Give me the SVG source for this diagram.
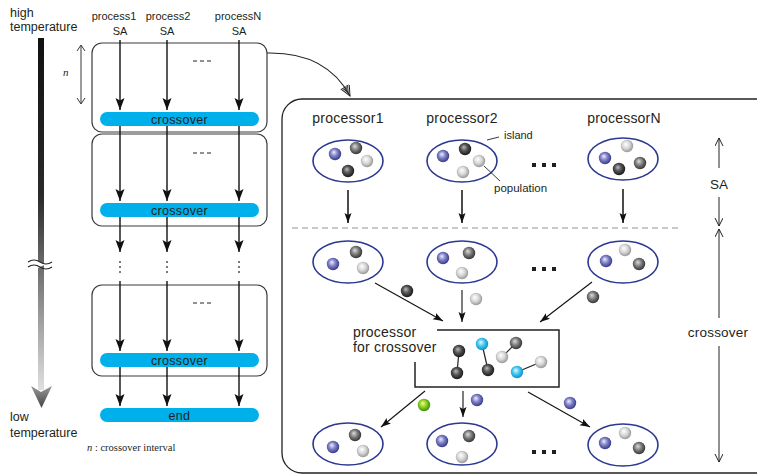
<svg xmlns="http://www.w3.org/2000/svg" width="757" height="474" viewBox="0 0 757 474">
<defs>
<style>
text{font-family:"Liberation Sans",Arial,sans-serif;fill:#231f20}
.lbl{font-size:12.5px}
.plbl{font-size:11px;text-anchor:middle}
.bar{fill:#00b0ea}
.bartxt{font-size:12.5px;text-anchor:middle;letter-spacing:0.3px}
.box{fill:none;stroke:#3a3a3a;stroke-width:1.2}
.vL{stroke:#111;stroke-width:1.4;fill:none;marker-end:url(#aL)}
.vS{stroke:#111;stroke-width:1.1;fill:none;marker-end:url(#aS)}
.vT{stroke:#111;stroke-width:1.5;fill:none;marker-end:url(#aS)}
.isl{fill:none;stroke:#2b3990;stroke-width:1.6}
.ptxt{font-size:14px;text-anchor:middle;letter-spacing:0.2px}
.dim{stroke:#222;stroke-width:1;fill:none;marker-end:url(#aO)}
.lead{stroke:#222;stroke-width:0.9;fill:none}
.dots{fill:#231f20}
circle{stroke:none}
.bB{fill:url(#gBlue)}.bD{fill:url(#gDark)}.bM{fill:url(#gMid)}.bL{fill:url(#gLight)}.bC{fill:url(#gCyan)}.bG{fill:url(#gGreen)}
</style>
<marker id="aL" markerUnits="userSpaceOnUse" markerWidth="13" markerHeight="10" refX="12" refY="4.5" orient="auto"><path d="M0,0 L12,4.5 L0,9 L2.5,4.5 Z" fill="#111"/></marker>
<marker id="aS" markerUnits="userSpaceOnUse" markerWidth="11" markerHeight="8" refX="10" refY="3.5" orient="auto"><path d="M0,0 L10,3.5 L0,7 L2,3.5 Z" fill="#111"/></marker>
<marker id="aO" markerUnits="userSpaceOnUse" markerWidth="10" markerHeight="10" refX="8" refY="4" orient="auto"><path d="M0,0 L8,4 L0,8" fill="none" stroke="#222" stroke-width="1"/></marker>
<marker id="aD" markerUnits="userSpaceOnUse" markerWidth="14" markerHeight="12" refX="11" refY="5" orient="auto"><path d="M0,0 L11,5 L0,10 M-3,0.5 L7,5 L-3,9.5 M-6,1 L3,5 L-6,9" fill="none" stroke="#222" stroke-width="1"/></marker>
<linearGradient id="gTemp" x1="0" y1="0" x2="0" y2="1"><stop offset="0" stop-color="#111"/><stop offset="0.45" stop-color="#2a2a2a"/><stop offset="1" stop-color="#e0e0e0"/></linearGradient>
<linearGradient id="gHead" x1="0" y1="0" x2="0" y2="1"><stop offset="0" stop-color="#999"/><stop offset="1" stop-color="#444"/></linearGradient>
<radialGradient id="gBlue" cx="0.45" cy="0.45" r="0.6" fx="0.4" fy="0.35"><stop offset="0" stop-color="#eef"/><stop offset="0.45" stop-color="#8385c8"/><stop offset="1" stop-color="#2b2f80"/></radialGradient>
<radialGradient id="gDark" cx="0.45" cy="0.45" r="0.6" fx="0.4" fy="0.35"><stop offset="0" stop-color="#bbb"/><stop offset="0.45" stop-color="#555"/><stop offset="1" stop-color="#111"/></radialGradient>
<radialGradient id="gMid" cx="0.45" cy="0.45" r="0.6" fx="0.4" fy="0.35"><stop offset="0" stop-color="#ddd"/><stop offset="0.5" stop-color="#7a7a7a"/><stop offset="1" stop-color="#2a2a2a"/></radialGradient>
<radialGradient id="gLight" cx="0.45" cy="0.45" r="0.6" fx="0.4" fy="0.35"><stop offset="0" stop-color="#fff"/><stop offset="0.5" stop-color="#d8d8d8"/><stop offset="1" stop-color="#8e8e8e"/></radialGradient>
<radialGradient id="gCyan" cx="0.45" cy="0.45" r="0.6" fx="0.4" fy="0.35"><stop offset="0" stop-color="#e6faff"/><stop offset="0.5" stop-color="#3cc4f0"/><stop offset="1" stop-color="#0a88c0"/></radialGradient>
<radialGradient id="gGreen" cx="0.45" cy="0.45" r="0.6" fx="0.4" fy="0.35"><stop offset="0" stop-color="#f2ff8a"/><stop offset="0.5" stop-color="#8ccc1c"/><stop offset="1" stop-color="#2a8410"/></radialGradient>
</defs>

<g id="temperature">
<text class="lbl" x="10" y="17">high</text>
<text class="lbl" x="10" y="31">temperature</text>
<rect x="38" y="38" width="6" height="352" fill="url(#gTemp)"/>
<path d="M31,386 L41,392 L52,386 L41.5,408 Z" fill="url(#gHead)"/>
<path d="M28,262 q6,-4 12,0 t12,0 L52,267 q-6,-4 -12,0 t-12,0 Z" fill="#fff"/>
<path d="M28,262 q6,-4 12,0 t12,0 M28,267 q6,-4 12,0 t12,0" fill="none" stroke="#222" stroke-width="1.1"/>
<text class="lbl" x="10" y="421">low</text>
<text class="lbl" x="10" y="437">temperature</text>
</g>

<g id="interval">
<line x1="81" y1="46" x2="81" y2="103" stroke="#222" stroke-width="0.9"/>
<path d="M77,51 L81,45 L85,51 M77,98 L81,104 L85,98" fill="none" stroke="#222" stroke-width="0.9"/>
<text x="63" y="76" style="font-family:'Liberation Serif',serif;font-style:italic;font-size:11px">n</text>
<text x="87" y="451" style="font-family:'Liberation Serif',serif;font-size:10.5px"><tspan font-style="italic">n</tspan> : crossover interval</text>
</g>

<g id="process-labels">
<text class="plbl" x="114" y="20">process1</text>
<text class="plbl" x="120" y="35">SA</text>
<text class="plbl" x="168" y="20">process2</text>
<text class="plbl" x="167" y="35">SA</text>
<text class="plbl" x="238" y="20">processN</text>
<text class="plbl" x="239" y="35">SA</text>
</g>

<g id="stage1">
<rect class="box" x="92" y="43" width="175" height="89" rx="10"/>
<path d="M193,61 h4 M200,61 h4 M207,61 h4" stroke="#222" stroke-width="1"/>
<rect class="bar" x="100" y="112" width="159" height="14" rx="7"/>
<text class="bartxt" x="179.5" y="123.5">crossover</text>
</g>
<g id="stage2">
<rect class="box" x="92" y="134" width="175" height="92" rx="10"/>
<path d="M193,153 h4 M200,153 h4 M207,153 h4" stroke="#222" stroke-width="1"/>
<rect class="bar" x="100" y="203" width="159" height="14" rx="7"/>
<text class="bartxt" x="179.5" y="214.5">crossover</text>
</g>
<g id="stage3">
<rect class="box" x="92" y="285" width="175" height="91" rx="10"/>
<path d="M193,303 h4 M200,303 h4 M207,303 h4" stroke="#222" stroke-width="1"/>
<rect class="bar" x="100" y="353" width="159" height="14" rx="7"/>
<text class="bartxt" x="179.5" y="364.5">crossover</text>
</g>
<g id="end">
<rect class="bar" x="100" y="408" width="159" height="14" rx="7"/>
<text class="bartxt" x="179.5" y="419.5">end</text>
</g>

<g id="panel">
<rect x="282" y="99" width="500" height="374" rx="20" fill="none" stroke="#222" stroke-width="1.3"/>
<line x1="292" y1="228" x2="681" y2="228" stroke="#8c939c" stroke-width="1" stroke-dasharray="6,4"/>
</g>

<g id="processor1">
<text class="ptxt" x="348" y="123">processor1</text>
<ellipse class="isl" cx="348" cy="161" rx="35" ry="21"/>
<circle class="bB" cx="335" cy="154" r="6.2"/><circle class="bM" cx="356" cy="148" r="6.2"/>
<circle class="bL" cx="367" cy="161" r="6.2"/><circle class="bD" cx="348" cy="171" r="6.2"/>
</g>
<g id="processor2">
<text class="ptxt" x="462" y="123">processor2</text>
<ellipse class="isl" cx="462" cy="161" rx="35" ry="21"/>
<circle class="bB" cx="443" cy="156" r="6.2"/><circle class="bD" cx="465" cy="149" r="6.2"/>
<circle class="bL" cx="479" cy="161" r="6.2"/><circle class="bL" cx="463" cy="172" r="6.2"/>
</g>
<g id="processorN">
<text class="ptxt" x="624" y="123">processorN</text>
<ellipse class="isl" cx="623" cy="159" rx="35" ry="21"/>
<circle class="bL" cx="627" cy="146" r="6.2"/><circle class="bB" cx="605" cy="158" r="6.2"/>
<circle class="bD" cx="619" cy="169" r="6.2"/><circle class="bM" cx="640" cy="163" r="6.2"/>
</g>
<g id="annotations">
<path class="lead" d="M487,140 L499,137"/>
<text x="504" y="139" style="font-size:11px">island</text>
<path class="lead" d="M484,166 L500,181"/>
<text x="494" y="192" style="font-size:11.5px">population</text>
<path class="dots" d="M532,163h4v4h-4z M542,163h4v4h-4z M552,163h4v4h-4z"/>
<path class="dots" d="M532,267h4v4h-4z M542,267h4v4h-4z M552,267h4v4h-4z"/>
<path class="dots" d="M532,450h4v4h-4z M542,450h4v4h-4z M552,450h4v4h-4z"/>
</g>

<g id="mid1">
<ellipse class="isl" cx="348" cy="262" rx="35" ry="21"/>
<circle class="bB" cx="333" cy="264" r="6.2"/><circle class="bM" cx="356" cy="252" r="6.2"/><circle class="bL" cx="363" cy="268" r="6.2"/>
</g>
<g id="mid2">
<ellipse class="isl" cx="462" cy="262" rx="35" ry="21"/>
<circle class="bB" cx="443" cy="258" r="6.2"/><circle class="bM" cx="469" cy="253" r="6.2"/><circle class="bL" cx="462" cy="273" r="6.2"/>
</g>
<g id="midN">
<ellipse class="isl" cx="623" cy="262" rx="35" ry="21"/>
<circle class="bL" cx="625" cy="250" r="6.2"/><circle class="bB" cx="606" cy="261" r="6.2"/><circle class="bM" cx="639" cy="264" r="6.2"/>
</g>

<g id="crossover-processor">
<path d="M437,330 H559 V387 H415 V362" fill="none" stroke="#222" stroke-width="1.5"/>
<text x="353" y="337" style="font-size:14px;letter-spacing:0.2px">processor</text>
<text x="353" y="352" style="font-size:14px;letter-spacing:0.2px">for crossover</text>
<g stroke="#222" stroke-width="1.2">
<line x1="459" y1="351" x2="457" y2="373"/><line x1="482" y1="344" x2="488" y2="370"/>
<line x1="516" y1="343" x2="502" y2="357"/><line x1="517" y1="372" x2="541" y2="362"/>
</g>
<circle class="bD" cx="459" cy="351" r="6.2"/><circle class="bD" cx="457" cy="373" r="6.2"/>
<circle class="bC" cx="482" cy="344" r="6.2"/><circle class="bD" cx="488" cy="370" r="6.2"/>
<circle class="bM" cx="516" cy="343" r="6.2"/><circle class="bL" cx="502" cy="357" r="6.2"/>
<circle class="bC" cx="517" cy="372" r="6.2"/><circle class="bL" cx="541" cy="362" r="6.2"/>
</g>

<g id="migrants">
<circle class="bD" cx="407" cy="291" r="6.2"/><circle class="bL" cx="476" cy="299" r="6.2"/><circle class="bM" cx="593" cy="297" r="6.2"/>
<circle class="bG" cx="424" cy="405" r="6.2"/><circle class="bB" cx="477" cy="400" r="6.2"/><circle class="bB" cx="570" cy="403" r="6.2"/>
</g>

<g id="bot1">
<ellipse class="isl" cx="348" cy="444" rx="35" ry="21"/>
<circle class="bB" cx="333" cy="447" r="6.2"/><circle class="bM" cx="355" cy="435" r="6.2"/><circle class="bL" cx="363" cy="451" r="6.2"/>
</g>
<g id="bot2">
<ellipse class="isl" cx="462" cy="444" rx="35" ry="21"/>
<circle class="bB" cx="442" cy="441" r="6.2"/><circle class="bM" cx="469" cy="436" r="6.2"/><circle class="bL" cx="462" cy="457" r="6.2"/>
</g>
<g id="botN">
<ellipse class="isl" cx="623" cy="445" rx="35" ry="21"/>
<circle class="bL" cx="625" cy="433" r="6.2"/><circle class="bB" cx="605" cy="443" r="6.2"/><circle class="bM" cx="639" cy="448" r="6.2"/>
</g>

<g id="phase-labels">
<text x="719" y="189" text-anchor="middle" style="font-size:13.5px">SA</text>
<text x="718" y="337" text-anchor="middle" style="font-size:13.5px;letter-spacing:0.2px">crossover</text>
</g>

<g id="connectors">
<path class="vL" d="M120,40 V110"/><path class="vL" d="M167,40 V110"/><path class="vL" d="M239,40 V110"/>
<path class="vL" d="M120,126 V201"/><path class="vL" d="M167,126 V201"/><path class="vL" d="M239,126 V201"/>
<path class="vL" d="M120,217 V252"/><path class="vL" d="M167,217 V252"/><path class="vL" d="M239,217 V252"/>
<g stroke="#222" stroke-width="1.2" stroke-dasharray="2,3"><path d="M120,261 V276 M167,261 V276 M239,261 V276"/></g>
<path class="vL" d="M120,281 V351"/><path class="vL" d="M167,281 V351"/><path class="vL" d="M239,281 V351"/>
<path class="vL" d="M120,367 V406"/><path class="vL" d="M167,367 V406"/><path class="vL" d="M239,367 V406"/>
<path d="M267,53 C312,52 336,70 350,96" fill="none" stroke="#222" stroke-width="1.1" marker-end="url(#aD)"/>
<path class="vT" d="M348,190 V223"/><path class="vT" d="M462,190 V223"/><path class="vT" d="M623,189 V223"/>
<path class="vS" d="M375,283 L443,321"/><path class="vS" d="M462,290 V322"/><path class="vS" d="M592,282 L540,322"/>
<path class="vS" d="M425,391 L381,427"/><path class="vS" d="M463,391 V417"/><path class="vS" d="M528,392 L590,427"/>
<path class="dim" d="M719,168 V138"/><path class="dim" d="M719,197 V226"/>
<path class="dim" d="M719,318 V229"/><path class="dim" d="M719,346 V462"/>
</g>
</svg>
